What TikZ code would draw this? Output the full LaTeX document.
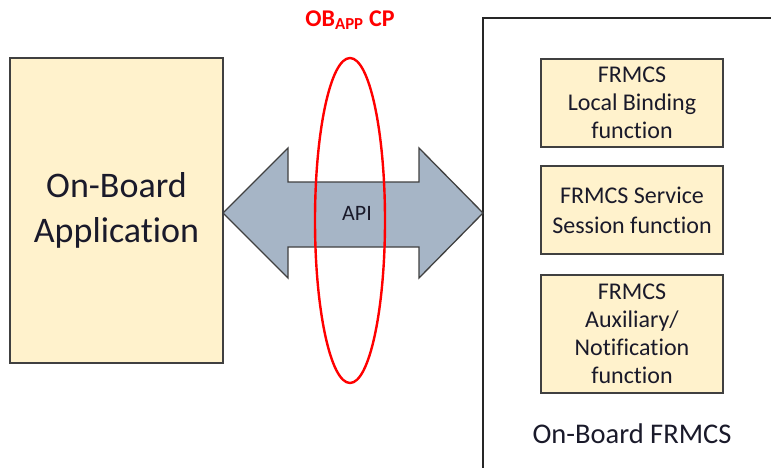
\documentclass[tikz,border=0pt]{standalone}
\usepackage{fontspec}
\setmainfont{Carlito}[Ligatures=NoCommon]
\begin{document}
\begin{tikzpicture}[x=1pt,y=-1pt,
  yellowbox/.style={draw=black!75, line width=1.3pt, fill=boxfill, align=center, inner sep=0pt},
  fnbox/.style={yellowbox, minimum width=182pt, font=\fontsize{24}{28}\selectfont},
]
\definecolor{boxfill}{HTML}{FFF2CC}
\definecolor{arrowfill}{HTML}{A6B5C6}
\definecolor{obred}{HTML}{FF0000}
\definecolor{txt}{HTML}{1A1A2A}
\useasboundingbox (0,0) rectangle (771,468);
% outer On-Board FRMCS frame (clipped by page)
\coordinate (frmcsBL) at (483,468);
\coordinate (frmcsTL) at (483,18);
\coordinate (frmcsTR) at (771,18);
\draw[line width=1.3pt, black!85] (frmcsBL) -- (frmcsTL) -- (frmcsTR);
% application box
\node[yellowbox, text=txt, minimum width=213pt, minimum height=305pt, font=\fontsize{36}{45}\selectfont] (app) at (116.5,210.5) {On-Board\\Application};
% function boxes
\node[fnbox, text=txt, minimum height=88pt] (lb) at (632,103) {FRMCS\\Local Binding\\function};
\node[fnbox, text=txt, minimum height=88pt, font=\fontsize{24}{30}\selectfont] (ss) at (632,210) {FRMCS Service\\Session function};
\node[fnbox, text=txt, minimum height=118pt] (aux) at (632,334) {FRMCS\\Auxiliary/\\Notification\\function};
\node[text=txt, font=\fontsize{28.5}{32}\selectfont] (obf) at (632,434) {On-Board FRMCS};
% API double arrow
\coordinate (tl) at (223,213);
\coordinate (tr) at (483,213);
\draw[line width=1.3pt, draw=black!75, fill=arrowfill, line join=miter]
  (tl) -- (288,148) -- (288,182) -- (419,182) -- (419,148) -- (tr)
  -- (419,278) -- (419,247) -- (288,247) -- (288,278) -- cycle;
\node[text=txt, font=\fontsize{22}{24}\selectfont] (api) at (357,213) {API};
% red ellipse
\draw[obred, line width=2.4pt] (350,220.5) ellipse [x radius=35, y radius=162.5];
\node[obred, font=\fontsize{24}{28}\selectfont\bfseries] (obapp) at (350,20) {OB\textsubscript{APP} CP};
\end{tikzpicture}
\end{document}
